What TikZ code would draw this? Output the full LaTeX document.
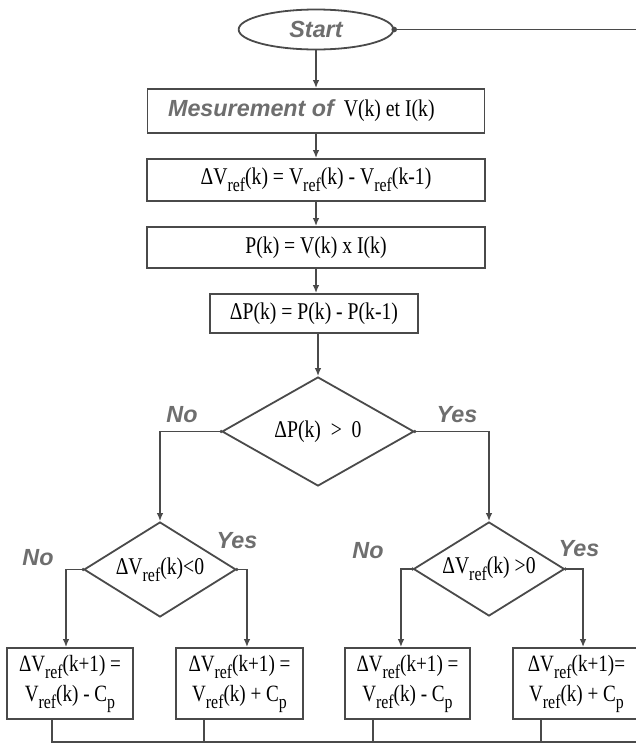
\documentclass[tikz,border=0pt]{standalone}
\usepackage{fontspec}
\setmainfont[FakeStretch=0.82]{Liberation Serif}
\newfontfamily\labfont{Liberation Sans}
\usetikzlibrary{shapes.geometric,arrows.meta,calc}
\definecolor{linec}{HTML}{4A4A4A}
\definecolor{labc}{HTML}{6E6E6E}
\newcommand\sbx[1]{\raisebox{-0.3em}{\fontsize{14.5}{14.5}\selectfont #1}}
\newcommand\Vr{V\sbx{ref}}
\tikzset{
  box/.style={draw=linec, line width=1.35pt, rectangle, inner sep=0pt, align=center,
    font=\fontsize{18}{20}\selectfont},
  dia/.style={draw=linec, line width=1.35pt, diamond, inner sep=0pt, align=center,
    font=\fontsize{18}{20}\selectfont},
  twoline/.style={font=\fontsize{17.5}{22.5}\selectfont},
  lbl/.style={text=labc, inner sep=0pt, font=\labfont\bfseries\itshape\fontsize{17.5}{18}\selectfont},
  conn/.style={draw=linec, line width=1.35pt},
  arr/.style={conn, -{Latex[length=6pt,width=5pt]}},
  dot/.style={fill=linec},
}
\begin{document}
\begin{tikzpicture}[x=0.75pt,y=-0.75pt]
\useasboundingbox (0,0) rectangle (636,747);
\clip (0,0) rectangle (636,747);
% nodes
\node[ellipse, draw=linec, line width=1.35pt, minimum width=116pt, minimum height=30pt, inner sep=0pt,
  text=labc, font=\labfont\bfseries\itshape\fontsize{17.5}{18}\selectfont] (start) at (316,29.5) {Start};
\node[box, minimum width=252.75pt, minimum height=33pt] (m1) at (316,111)
  {\hspace*{-8pt}{\color{labc}\labfont\bfseries\itshape\fontsize{17.5}{18}\selectfont Mesurement of}\ \ V(k) et I(k)\hspace*{14pt}};
\node[box, minimum width=253.5pt, minimum height=31.5pt] (m2) at (316,180)
  {ΔV\sbx{ref}(k) = \Vr(k) - \Vr(k-1)};
\node[box, minimum width=253.5pt, minimum height=30.75pt] (m3) at (316,247.5)
  {P(k) = V(k) x I(k)};
\node[box, minimum width=156pt, minimum height=29.25pt] (m4) at (314,313.5)
  {ΔP(k) = P(k) - P(k-1)};
\node[dia, minimum width=144pt, minimum height=81.75pt, aspect=1.76] (d1) at (318,431.5)
  {ΔP(k) \ > \ 0};
\node[dia, minimum width=114pt, minimum height=71.25pt, aspect=1.6] (d2) at (160,569.5)
  {Δ\Vr(k)<0};
\node[dia, minimum width=113.25pt, minimum height=70.5pt, aspect=1.6] (d3) at (489,569)
  {Δ\Vr(k) >0};
\node[box, twoline, minimum width=94.5pt, minimum height=53.25pt] (b1) at (70,683.5)
  {Δ\Vr(k+1) =\\ \Vr(k) - C\sbx{p}};
\node[box, twoline, minimum width=95.25pt, minimum height=53.25pt] (b2) at (239.5,683.5)
  {Δ\Vr(k+1) =\\ \Vr(k) + C\sbx{p}};
\node[box, twoline, minimum width=93.75pt, minimum height=53.25pt] (b3) at (407.5,683.5)
  {Δ\Vr(k+1) =\\ \Vr(k) - C\sbx{p}};
\node[box, twoline, minimum width=95.25pt, minimum height=53.25pt] (b4) at (576.5,683.5)
  {Δ\Vr(k+1)=\\ \Vr(k) + C\sbx{p}};
% labels
\node[lbl] (l1) at (182,415) {No};
\node[lbl] (l2) at (457,415) {Yes};
\node[lbl] (l3) at (38,558) {No};
\node[lbl] (l4) at (237,541) {Yes};
\node[lbl] (l5) at (368,551) {No};
\node[lbl] (l6) at (579,549) {Yes};
% return coordinates
\coordinate (rtop) at (640,29.5);
\coordinate (rbot) at (640,742);
% connectors
\draw[arr] (start.south) -- (start.south |- m1.north);
\draw[arr] (m1.south) -- (m1.south |- m2.north);
\draw[arr] (m2.south) -- (m2.south |- m3.north);
\draw[arr] (m3.south) -- (m3.south |- m4.north);
\draw[arr] (m4.south -| d1.north) -- (d1.north);
\draw[arr] (d1.west) -| (d2.north);
\draw[arr] (d1.east) -| (d3.north);
\draw[arr] (d2.west) -| ([xshift=-3pt]b1.north);
\draw[arr] (d2.east) -| ([xshift=5.6pt]b2.north);
\draw[arr] (d3.west) -| ([xshift=-4.9pt]b3.north);
\draw[arr] (d3.east) -| ([xshift=4.9pt]b4.north);
\draw[conn] ([xshift=-13.5pt]b1.south) |- (rbot);
\draw[conn] ([xshift=-26.6pt]b2.south) -- ++(0,742-719);
\draw[conn] ([xshift=-25.9pt]b3.south) -- ++(0,742-719);
\draw[conn] ([xshift=-26.6pt]b4.south) -- ++(0,742-719);
\draw[conn] (rtop) -- (start.east);
\fill[dot] (start.east) circle (2.8);
\foreach \n in {d1,d2,d3}{
  \fill[dot] (\n.west) circle (1.8);
  \fill[dot] (\n.east) circle (1.8);
}
\end{tikzpicture}
\end{document}
